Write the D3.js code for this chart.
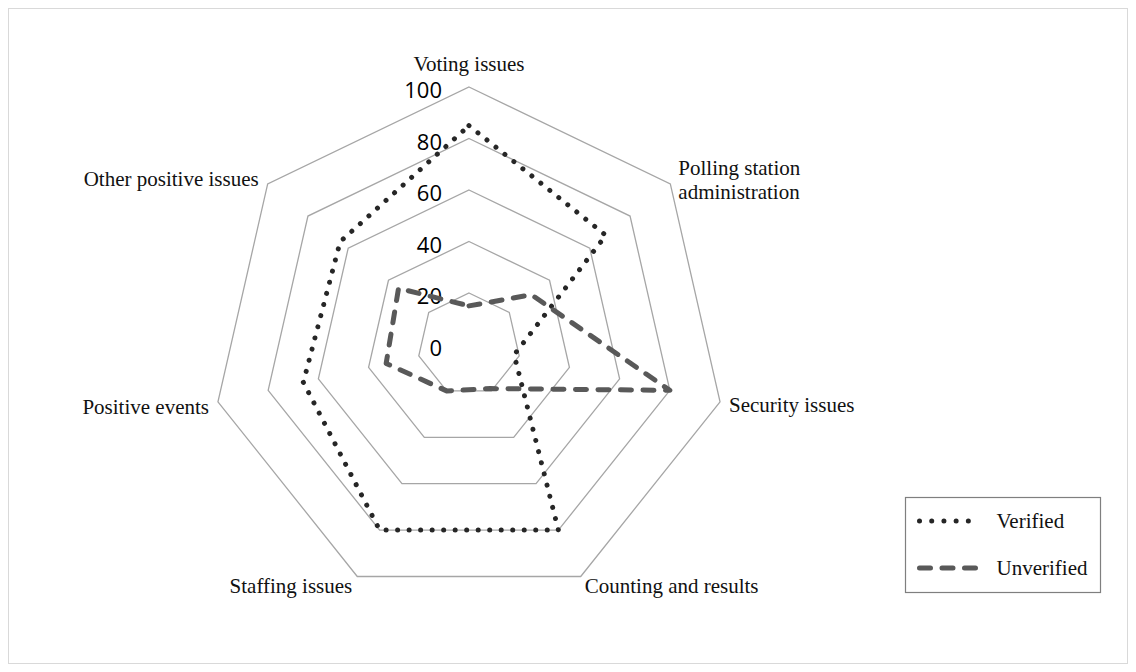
<!DOCTYPE html>
<html>
<head>
<meta charset="utf-8">
<script src="https://cdn.jsdelivr.net/npm/d3@7"></script>
<style>
  body { margin: 0; background: #fff; }
</style>
</head>
<body>
<div id="chart"></div>
<script>
// categories, clockwise from the top
const categories = [
  "Voting issues",
  "Polling station administration",
  "Security issues",
  "Counting and results",
  "Staffing issues",
  "Positive events",
  "Other positive issues"
];

// series values
const verified = [85, 68, 18, 80, 80, 66, 64];
const unverified = [15, 31, 80, 19, 20, 33, 35];

// ring levels and their labels
const levels = [20, 40, 60, 80, 100];
const tickLabels = ["0", "20", "40", "60", "80", "100"];

const width = 1136,
    height = 672;

const cx = 469,
    cy = 344.5,
    radius = 257.5;

const svg = d3.select("#chart")
    .append("svg")
    .attr("width", width)
    .attr("height", height);

// chart area border
svg.append("rect")
    .attr("x", 8.5).attr("y", 8.5)
    .attr("width", 1119).attr("height", 655)
    .attr("fill", "none")
    .attr("stroke", "#d9d9d9")
    .attr("stroke-width", 1);

const g = svg.append("g")
    .attr("transform", `translate(${cx},${cy})`);

const r = d3.scaleLinear()
    .domain([0, 100])
    .range([0, radius]);

const angle = d3.scalePoint()
    .domain(d3.range(categories.length + 1))
    .range([0, 2 * Math.PI]);

const radial = d3.lineRadial()
    .angle((d, i) => angle(i))
    .radius(d => r(d))
    .curve(d3.curveLinearClosed);

// grid rings
g.selectAll("path.ring")
    .data(levels)
    .join("path")
    .attr("class", "ring")
    .attr("d", lv => radial(categories.map(() => lv)))
    .attr("fill", "none")
    .attr("stroke", "#a6a6a6")
    .attr("stroke-width", 1.3);

// value labels along the vertical axis
g.selectAll("text.tick")
    .data(tickLabels)
    .join("text")
    .attr("class", "tick")
    .attr("x", -27)
    .attr("y", d => -r(+d) + 2)
    .attr("text-anchor", "end")
    .attr("dominant-baseline", "central")
    .style("font-family", "'Open Sans', sans-serif")
    .style("font-size", "22px")
    .style("fill", "#000")
    .text(d => d);

// category labels placed outside each vertex
const point = (i, v) => {
  const a = angle(i) - Math.PI / 2;
  return [r(v) * Math.cos(a), r(v) * Math.sin(a)];
};

const labelLayout = [
  { dx: 0, dy: -23, anchor: "middle" },
  { dx: 8, dy: -4, anchor: "start" },
  { dx: 9, dy: 3, anchor: "start" },
  { dx: 4, dy: 10, anchor: "start" },
  { dx: -5, dy: 10, anchor: "end" },
  { dx: -9, dy: 5, anchor: "end" },
  { dx: -9, dy: -5, anchor: "end" }
];

const labels = g.selectAll("text.cat")
    .data(categories)
    .join("text")
    .attr("class", "cat")
    .attr("text-anchor", (d, i) => labelLayout[i].anchor)
    .style("font-family", "'Liberation Serif', 'Times New Roman', serif")
    .style("font-size", "21px")
    .style("fill", "#111");

labels.each(function (d, i) {
  const [x, y] = point(i, 100);
  const lay = labelLayout[i];
  const words = d === "Polling station administration"
      ? ["Polling station", "administration"] : [d];
  const lh = 24;
  const y0 = y + lay.dy - (words.length - 1) * lh / 2;
  d3.select(this).selectAll("tspan")
      .data(words)
      .join("tspan")
      .attr("x", x + lay.dx)
      .attr("y", (w, j) => y0 + j * lh)
      .attr("dominant-baseline", "central")
      .text(w => w);
});

// series
const series = [
  { name: "Verified", values: verified, color: "#262626", width: 5, dash: "0.01 11.5" },
  { name: "Unverified", values: unverified, color: "#595959", width: 5, dash: "11 11.5" }
];

g.selectAll("path.series")
    .data(series)
    .join("path")
    .attr("class", "series")
    .attr("d", s => radial(s.values))
    .attr("fill", "none")
    .attr("stroke", s => s.color)
    .attr("stroke-width", s => s.width)
    .attr("stroke-dasharray", s => s.dash)
    .attr("stroke-linecap", "round")
    .attr("stroke-linejoin", "round");

// legend
const legend = svg.append("g")
    .attr("transform", "translate(905.5,497.5)");

legend.append("rect")
    .attr("width", 195)
    .attr("height", 95)
    .attr("fill", "#fff")
    .attr("stroke", "#7f7f7f")
    .attr("stroke-width", 1.2);

const item = legend.selectAll("g.item")
    .data(series)
    .join("g")
    .attr("class", "item")
    .attr("transform", (d, i) => `translate(0,${23.5 + i * 47})`);

item.append("line")
    .attr("x1", 14).attr("x2", 75)
    .attr("stroke", d => d.color)
    .attr("stroke-width", d => d.width)
    .attr("stroke-dasharray", d => d.name === "Verified" ? "0.01 12.2" : "11 11.5")
    .attr("stroke-linecap", "round");

item.append("text")
    .attr("x", 91)
    .attr("dominant-baseline", "central")
    .style("font-family", "'Liberation Serif', 'Times New Roman', serif")
    .style("font-size", "21px")
    .style("fill", "#111")
    .text(d => d.name);
</script>
</body>
</html>
